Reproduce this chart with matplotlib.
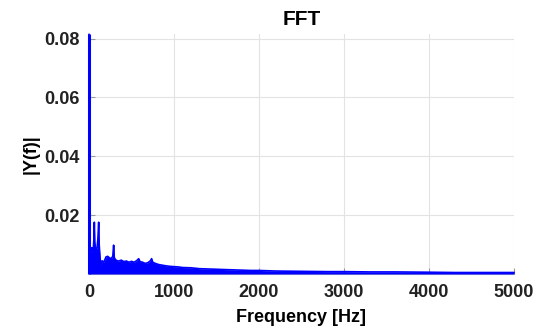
import numpy as np
import matplotlib
matplotlib.use('Agg')
import matplotlib.pyplot as plt

plt.rcParams['font.family'] = ['Liberation Sans', 'DejaVu Sans']

# single-sided amplitude spectrum (upper edge of the trace)
freq_hz = [0, 8, 15, 22, 30, 40, 50, 58, 63, 68, 75, 85, 95, 105, 114, 120, 130, 140,
           155, 175, 200, 220, 240, 260, 280, 290, 298, 320, 350, 380, 410, 440, 470,
           500, 530, 560, 585, 600, 630, 660, 690, 720, 737, 750, 780, 820, 860, 900,
           950, 1000, 1050, 1100, 1200, 1300, 1400, 1500, 1700, 1900, 2000, 2200, 2500,
           2800, 3000, 3300, 3600, 4000, 4300, 4600, 5000]
amp = [0.0814, 0.0085, 0.0060, 0.0090, 0.0075, 0.0088, 0.0080, 0.0120, 0.0176, 0.0110,
       0.0088, 0.0082, 0.0090, 0.0120, 0.0176, 0.0100, 0.0055, 0.0030, 0.0045, 0.0040,
       0.0058, 0.0060, 0.0055, 0.0052, 0.0060, 0.0098, 0.0055, 0.0046, 0.0044, 0.0047,
       0.0042, 0.0044, 0.0040, 0.0043, 0.0040, 0.0045, 0.0052, 0.0042, 0.0040, 0.0036,
       0.0038, 0.0044, 0.0052, 0.0040, 0.0036, 0.0032, 0.0030, 0.0028, 0.0026, 0.0025,
       0.0024, 0.0022, 0.0021, 0.0018, 0.0017, 0.0016, 0.0014, 0.0012, 0.0012, 0.0010,
       0.0009, 0.0008, 0.0008, 0.0007, 0.0007, 0.0006, 0.0005, 0.0005, 0.0005]

xticks = [0, 1000, 2000, 3000, 4000, 5000]
yticks = [0.02, 0.04, 0.06, 0.08]

fig = plt.figure(figsize=(5.38, 3.29), dpi=100)
ax = fig.add_axes([0.1654, 0.1672, 0.7900, 0.7280])

blue = (0, 0, 1)
ax.fill_between(freq_hz, 0, amp, color=blue, lw=0, zorder=3)
ax.plot(freq_hz, amp, color=blue, lw=1.2, zorder=3, clip_on=False)
# DC component as a full-height spike
ax.vlines(freq_hz[0], 0, amp[0], color=blue, lw=2.2, clip_on=False, zorder=3)

ax.set_xlim(0, 5000)
ax.set_ylim(0, 0.0814)
ax.set_xticks(xticks)
ax.set_yticks(yticks)
ax.set_xticklabels([str(v) for v in xticks])
ax.set_yticklabels(['%.2f' % v for v in yticks])
ax.grid(True, color='#e3e3e3', lw=0.8)
ax.set_axisbelow(True)

for s in ['top', 'right']:
    ax.spines[s].set_visible(False)
for s in ['left', 'bottom']:
    ax.spines[s].set_color('#bdbdbd')
    ax.spines[s].set_zorder(1)
ax.tick_params(direction='in', length=4, color='#9a9a9a', labelsize=13, pad=7,
               labelcolor='#222222')
for lab in ax.get_xticklabels() + ax.get_yticklabels():
    lab.set_fontweight('bold')

ax.set_title('FFT', fontsize=15, fontweight='bold', pad=7)
ax.set_xlabel('Frequency [Hz]', fontsize=13, fontweight='bold', labelpad=6)
ax.set_ylabel('|Y(f)|', fontsize=13, fontweight='bold', labelpad=3)

fig.savefig('out.png', dpi=100)
